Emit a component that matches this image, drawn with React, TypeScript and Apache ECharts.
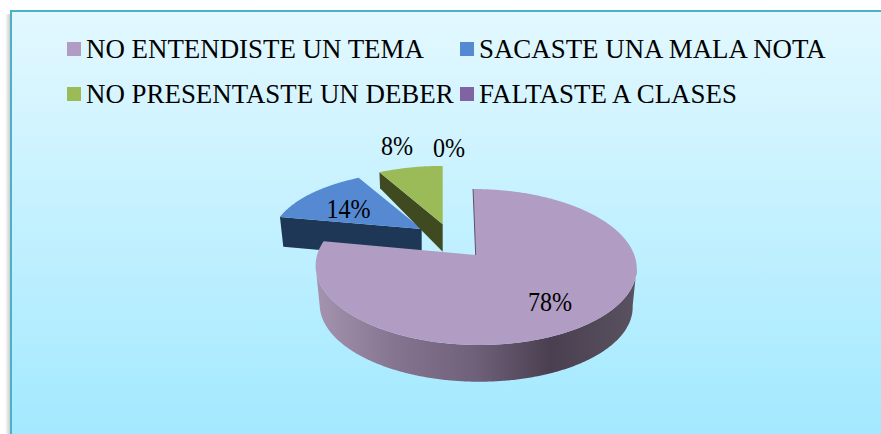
import React, { useEffect, useRef } from "react";
import * as echarts from "echarts";

const categories = ["NO ENTENDISTE UN TEMA", "SACASTE UNA MALA NOTA", "NO PRESENTASTE UN DEBER", "FALTASTE A CLASES"];
const values = [78, 14, 8, 0];
const topColors = ["#b19dc4", "#558ad3", "#9bbb59", "#8064a2"];
const wallColors = ["#4a3f50", "#1f3756", "#3f4a20", "#40304f"];

const W = 881;
const H = 434;
const FONT = "'Liberation Serif', 'Times New Roman', serif";
const K = 0.1538;
const A = 158.6;
const B = 76.15;

type Piece = {
  ax: number; ay: number; sx: number; sy: number; skew: number;
  lx: number; ly: number; lsx: number; lsy: number;
  tx: number; ty: number; outerWall: boolean;
};
const pieces: Piece[] = [
  { ax: 475.7, ay: 255, sx: 1, sy: 1, skew: -0.04, lx: 475.7, ly: 294, lsx: 0.975, lsy: 0.975, tx: 550, ty: 302, outerWall: true },
  { ax: 421.7, ay: 229, sx: 0.936, sy: 0.87, skew: 0, lx: 421.7, ly: 259, lsx: 0.914, lsy: 0.887, tx: 348.5, ty: 208.5, outerWall: false },
  { ax: 442.7, ay: 224.3, sx: 0.94, sy: 0.885, skew: 0, lx: 442.7, ly: 251.7, lsx: 0.93, lsy: 1.08, tx: 397, ty: 146, outerWall: false },
  { ax: 444, ay: 224, sx: 0.94, sy: 0.885, skew: 0, lx: 444, ly: 224, lsx: 0.94, lsy: 0.885, tx: 449, ty: 147.5, outerWall: false },
];

const total = values.reduce((a, b) => a + b, 0);
const starts = values.map((_, i) => (values.slice(0, i).reduce((a, b) => a + b, 0) / total) * Math.PI * 2);
const LEFT_T = Math.acos(-K);

function pt(theta: number, cx: number, cy: number, sx: number, sy: number, skew = 0): number[] {
  const w = 1 + K * Math.cos(theta);
  const X = (A * Math.sin(theta)) / w;
  const Y = (B * Math.cos(theta)) / w;
  return [cx + sx * X + skew * sy * Y, cy - sy * Y];
}

function arc(t0: number, t1: number, cx: number, cy: number, sx: number, sy: number, skew = 0): number[][] {
  const n = Math.max(2, Math.ceil(Math.abs(t1 - t0) / 0.01));
  const out: number[][] = [];
  for (let i = 0; i <= n; i++) out.push(pt(t0 + ((t1 - t0) * i) / n, cx, cy, sx, sy, skew));
  return out;
}

function renderSlice(i: number) {
  return () => {
    const p = pieces[i];
    const v = values[i];
    const t0 = starts[i];
    const t1 = t0 + (v / total) * Math.PI * 2;
    const children: any[] = [];
    if (v > 0) {
      if (p.outerWall) {
        const upper = arc(LEFT_T, Math.PI * 2 - LEFT_T, p.ax, p.ay, p.sx, p.sy, p.skew);
        const lower = arc(Math.PI * 2 - LEFT_T, LEFT_T, p.lx, p.ly, p.lsx, p.lsy, p.skew);
        children.push({
          type: "polygon",
          shape: { points: upper.concat(lower) },
          style: {
            fill: new echarts.graphic.LinearGradient(0, 0, 1, 0, [
              { offset: 0, color: "#a594b0" },
              { offset: 0.25, color: "#85748f" },
              { offset: 0.5, color: "#6f6079" },
              { offset: 0.73, color: wallColors[i] },
              { offset: 1, color: "#5a5260" },
            ]),
          },
        });
      } else {
        const a = pt(t0, p.ax, p.ay, p.sx, p.sy, p.skew);
        const b = pt(t0, p.lx, p.ly, p.lsx, p.lsy, p.skew);
        children.push({
          type: "polygon",
          shape: { points: [[p.ax, p.ay], a, b, [p.lx, p.ly]] },
          style: { fill: wallColors[i] },
        });
      }
      children.push({
        type: "polygon",
        shape: { points: [[p.ax, p.ay] as number[]].concat(arc(t0, t1, p.ax, p.ay, p.sx, p.sy, p.skew)) },
        style: { fill: topColors[i] },
      });
      if (p.outerWall) {
        children.push({
          type: "polyline",
          shape: { points: [pt(t0, p.ax, p.ay, p.sx, p.sy, p.skew), [p.ax, p.ay]] },
          style: { stroke: "#5d5168", lineWidth: 1, fill: "none" },
        });
      }
    }
    children.push({
      type: "text",
      x: p.tx,
      y: p.ty,
      scaleX: 0.875,
      style: {
        text: v + "%",
        fill: "#000",
        font: "27.5px " + FONT,
        align: "center",
        verticalAlign: "middle",
      },
    });
    return { type: "group", children };
  };
}

// Big slice is painted last: it overlaps the exploded ones.
const zOrder = [3, 1, 2, 4];

export default function App() {
  const ref = useRef<HTMLDivElement>(null);
  useEffect(() => {
    document.body.style.margin = "0";
    const chart = echarts.init(ref.current!, null, { renderer: "svg", width: W, height: H });
    const legendBase = {
      orient: "vertical" as const,
      top: 34,
      padding: 0,
      itemGap: 15,
      itemWidth: 14,
      itemHeight: 14,
      icon: "rect",
      textStyle: { fontFamily: FONT, fontSize: 26.9, color: "#000", lineHeight: 30, padding: [0, 0, 0, 0] },
    };
    chart.setOption({
      animation: false,
      backgroundColor: "#ffffff",
      graphic: [
        {
          type: "rect",
          z: -10,
          silent: true,
          shape: { x: 5, y: 14, width: 5, height: 430 },
          style: {
            fill: new echarts.graphic.LinearGradient(0, 0, 1, 0, [
              { offset: 0, color: "#ffffff" },
              { offset: 1, color: "#cfcfcf" },
            ]),
          },
        },
        {
          type: "rect",
          z: -9,
          silent: true,
          shape: { x: 11, y: 11, width: 900, height: 440 },
          style: {
            fill: new echarts.graphic.LinearGradient(0, 0, 0, 1, [
              { offset: 0, color: "#e3f8ff" },
              { offset: 0.96, color: "#a3e9ff" },
              { offset: 1, color: "#a3e9ff" },
            ]),
            stroke: "#4bb1c9",
            lineWidth: 2,
          },
        },
      ],
      legend: [
        { ...legendBase, left: 67, data: [categories[0], categories[2]] },
        { ...legendBase, left: 460, data: [categories[1], categories[3]] },
      ],
      series: categories.map((name, i) => ({
        type: "custom",
        name,
        coordinateSystem: "none",
        z: zOrder[i],
        silent: true,
        itemStyle: { color: topColors[i] },
        data: [{ value: values[i], name }],
        renderItem: renderSlice(i),
      })),
    });
    return () => chart.dispose();
  }, []);
  return <div ref={ref} style={{ width: W, height: H, position: "absolute", left: 0, top: 0 }} />;
}
